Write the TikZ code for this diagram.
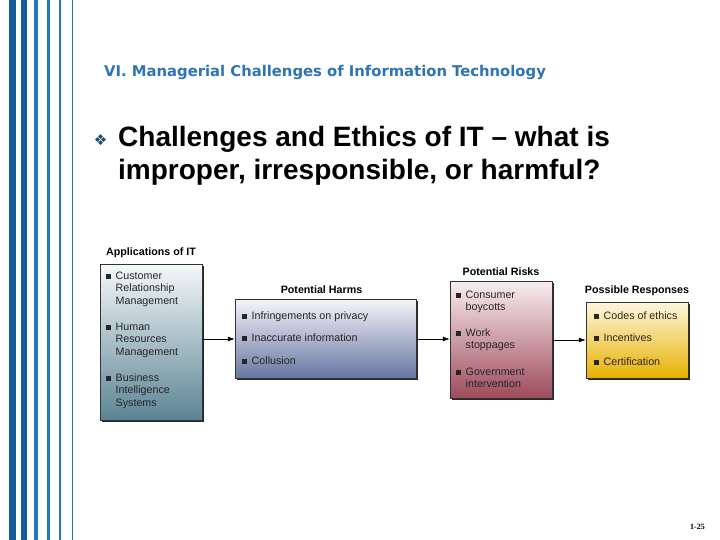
\documentclass[tikz,border=0pt]{standalone}
\usepackage{fontspec}
\setmainfont{Liberation Sans}
\newfontfamily\headfont{DejaVu Sans}
\newfontfamily\symbfont{DejaVu Sans}
\newfontfamily\numfont{Liberation Serif}
\usetikzlibrary{positioning,shadows,arrows.meta}

\definecolor{StripeDark}{HTML}{135C97}
\definecolor{StripeLight}{HTML}{2479BA}
\definecolor{Heading}{HTML}{2E74B4}
\definecolor{Diamond}{HTML}{1A4A73}
\definecolor{AppTop}{HTML}{F5F9FA}
\definecolor{AppBot}{HTML}{5C8494}
\definecolor{HarmTop}{HTML}{F4F4F9}
\definecolor{HarmBot}{HTML}{6675A0}
\definecolor{RiskTop}{HTML}{F9EEF0}
\definecolor{RiskBot}{HTML}{9E4B5B}
\definecolor{RespTop}{HTML}{FDF7DF}
\definecolor{RespBot}{HTML}{E8B100}

\newcommand{\sqbul}[1]{\rule{5pt}{5pt}\hspace{4.5pt}\begin{tabular}[t]{@{}l@{}}#1\end{tabular}}

\begin{document}
\begin{tikzpicture}[x=1pt, y=-1pt,
  panel/.style={draw=black!80, line width=0.5pt, inner sep=0pt,
    general shadow={fill=black!85, shadow xshift=1.6pt, shadow yshift=-1.6pt}},
  heading/.style={inner sep=0pt, font=\bfseries\fontsize{10.7}{12}\selectfont},
  boxitem/.style={anchor=base west, inner sep=0pt, text=black!85,
    font=\fontsize{10.7}{12.8}\selectfont},
  flow/.style={-{Latex[length=7pt,width=5pt]}, line width=0.6pt}]

 \useasboundingbox (0,0) rectangle (720,540);

 %%%%%%%%%% Stripes on the left %%%%%%%%%%
 \fill [StripeDark] (9,0) rectangle (15.7,540);
 \fill [StripeDark] (20.7,0) rectangle (26.7,540);
 \fill [StripeLight] (34,0) rectangle (38,540);
 \fill [StripeLight] (46.7,0) rectangle (50,540);
 \fill [StripeLight] (59,0) rectangle (61.3,540);
 \fill [StripeLight] (71.8,0) rectangle (72.8,540);

 %%%%%%%%%% Slide texts %%%%%%%%%%
 \node [anchor=base west, inner sep=0pt, text=Heading,
   font=\headfont\bfseries\fontsize{14.8}{17}\selectfont] (title) at (104,77)
   {VI. Managerial Challenges of Information Technology};
 \node [anchor=base, inner sep=0pt, text=Diamond,
   font=\symbfont\fontsize{15}{17}\selectfont] (diam) at (100.5,145.5) {❖};
 \node [anchor=base west, inner sep=0pt, align=left,
   font=\bfseries\fontsize{28}{33}\selectfont] (question) at (118,180)
   {Challenges and Ethics of IT – what is\\improper, irresponsible, or harmful?};

 %%%%%%%%%% The four boxes %%%%%%%%%%
 \node [panel, top color=AppTop, bottom color=AppBot,
   minimum width=102pt, minimum height=156pt] (apps) at (151,342) {};
 \node [panel, top color=HarmTop, bottom color=HarmBot,
   minimum width=181pt, minimum height=79pt] (harms) at (325.5,339) {};
 \node [panel, top color=RiskTop, bottom color=RiskBot,
   minimum width=102pt, minimum height=117pt] (risks) at (501,339.5) {};
 \node [panel, top color=RespTop, bottom color=RespBot,
   minimum width=102pt, minimum height=76pt] (resp) at (637,340) {};

 %%%%%%%%%% Box titles %%%%%%%%%%
 \node [heading, above=5.5pt of apps] (appslabel) {Applications of IT};
 \node [heading, above=5pt of harms, xshift=-4pt] (harmslabel) {Potential Harms};
 \node [heading, above=5pt of risks] (riskslabel) {Potential Risks};
 \node [heading, above=6pt of resp] (resplabel) {Possible Responses};

 %%%%%%%%%% Items %%%%%%%%%%
 \node [boxitem] (crm) at (106,279) {\sqbul{Customer\\Relationship\\Management}};
 \node [boxitem] (hrm) at (106,330) {\sqbul{Human\\Resources\\Management}};
 \node [boxitem] (bis) at (106,381) {\sqbul{Business\\Intelligence\\Systems}};

 \node [boxitem] (privacy) at (242,319) {\sqbul{Infringements on privacy}};
 \node [boxitem] (inaccurate) at (242,341) {\sqbul{Inaccurate information}};
 \node [boxitem] (collusion) at (242,364) {\sqbul{Collusion}};

 \node [boxitem] (boycott) at (456,298) {\sqbul{Consumer\\boycotts}};
 \node [boxitem] (stoppage) at (456,336) {\sqbul{Work\\stoppages}};
 \node [boxitem] (govern) at (456,375) {\sqbul{Government\\intervention}};

 \node [boxitem] (codes) at (594,319) {\sqbul{Codes of ethics}};
 \node [boxitem] (incent) at (594,341) {\sqbul{Incentives}};
 \node [boxitem] (certif) at (594,365) {\sqbul{Certification}};

 %%%%%%%%%% Arrows %%%%%%%%%%
 \draw [flow] (apps.east |- harms.west) -- (harms.west);
 \draw [flow] (harms.east) -- (risks.west |- harms.east);
 \draw [flow] (risks.east |- resp.west) -- (resp.west);

 %%%%%%%%%% Page number %%%%%%%%%%
 \node [anchor=base east, inner sep=0pt,
   font=\numfont\bfseries\fontsize{8}{10}\selectfont] (pagenum) at (705,529) {1-25};

\end{tikzpicture}
\end{document}
